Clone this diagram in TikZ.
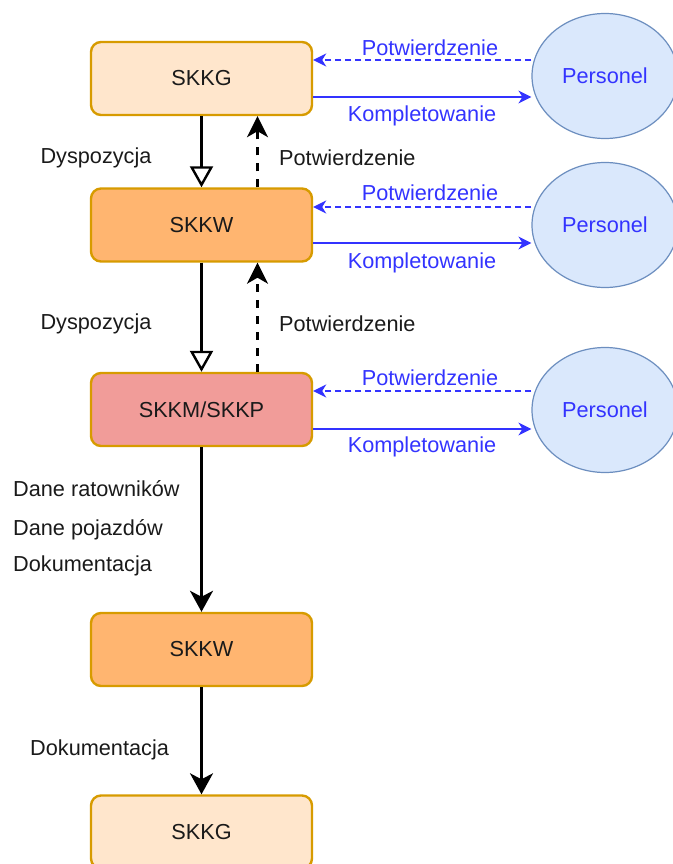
\documentclass[tikz,border=0pt]{standalone}
\usepackage{fontspec}
\setmainfont{Liberation Sans}
\usetikzlibrary{arrows.meta,shapes.geometric}

\definecolor{boxline}{HTML}{D79B00}
\definecolor{lightorange}{HTML}{FFE6CC}
\definecolor{midorange}{HTML}{FFB570}
\definecolor{salmon}{HTML}{F19C99}
\definecolor{staffline}{HTML}{6C8EBF}
\definecolor{stafffill}{HTML}{DAE8FC}
\definecolor{flowblue}{HTML}{3333FF}
\definecolor{ink}{HTML}{1A1A1A}

\tikzset{
  unit/.style={rectangle, rounded corners=10pt, draw=boxline, line width=2.4pt,
    minimum width=221pt, minimum height=73pt, inner sep=0pt, text=ink,
    font=\fontsize{21.7}{26}\selectfont},
  staff/.style={ellipse, draw=staffline, fill=stafffill, line width=1.2pt,
    minimum width=146pt, minimum height=125pt, inner sep=0pt, text=flowblue,
    font=\fontsize{21.7}{26}\selectfont},
  lbl/.style={inner sep=0pt, text=ink, font=\fontsize{21.7}{26}\selectfont},
  bluelbl/.style={inner sep=0pt, text=flowblue, font=\fontsize{21.7}{26}\selectfont},
  order/.style={draw=black, line width=2.6pt,
    -{Triangle[length=21pt,width=23pt,fill=white,line width=2.4pt]}},
  confirm/.style={draw=black, line width=2.6pt, dash pattern=on 8pt off 8pt,
    -{Stealth[length=21pt,width=21pt,inset=6pt]}},
  flow/.style={draw=black, line width=2.6pt,
    -{Stealth[length=21pt,width=23pt,inset=6pt]}},
  bconfirm/.style={draw=flowblue, line width=1.5pt, dash pattern=on 6pt off 4pt,
    -{Stealth[length=13pt,width=13pt,inset=4pt]}},
  bassemble/.style={draw=flowblue, line width=1.5pt,
    -{Stealth[length=13pt,width=13pt,inset=4pt]}},
}

\begin{document}
\begin{tikzpicture}[x=1pt, y=-1pt]
\useasboundingbox (0,0) rectangle (672,864);

% command units
\node[unit, fill=lightorange] (b1) at (201.5,78.5) {SKKG};
\node[unit, fill=midorange]   (b2) at (201.5,225)  {SKKW};
\node[unit, fill=salmon]      (b3) at (201.5,409.5) {SKKM/SKKP};
\node[unit, fill=midorange]   (b4) at (201.5,649.5) {SKKW};
\node[unit, fill=lightorange] (b5) at (201.5,832)  {SKKG};

% staff
\node[staff] (p1) at (605,76)  {Personel};
\node[staff] (p2) at (605,225) {Personel};
\node[staff] (p3) at (605,410) {Personel};

% orders down, confirmations up
\draw[order] (b1.south) -- (b2.north);
\draw[confirm] ([xshift=56pt]b2.north) -- ([xshift=56pt]b1.south);
\draw[order] (b2.south) -- (b3.north);
\draw[confirm] ([xshift=56pt]b3.north) -- ([xshift=56pt]b2.south);
\draw[flow] (b3.south) -- (b4.north);
\draw[flow] (b4.south) -- (b5.north);

\node[lbl] (d1) at (96,158) {Dyspozycja};
\node[lbl, anchor=west] (c1) at (279,158) {Potwierdzenie};
\node[lbl] (d2) at (96,324) {Dyspozycja};
\node[lbl, anchor=west] (c2) at (279,324) {Potwierdzenie};
\node[lbl, anchor=west] (t1) at (13,489) {Dane ratowników};
\node[lbl, anchor=west] (t2) at (13,530) {Dane pojazdów};
\node[lbl, anchor=west] (t3) at (13,566) {Dokumentacja};
\node[lbl, anchor=west] (t4) at (30,750) {Dokumentacja};

% staff exchanges
\draw[bconfirm] (p1.west |- 0,60) -- (b1.east |- 0,60);
\draw[bassemble] (b1.east |- 0,97) -- (p1.west |- 0,97);
\draw[bconfirm] (p2.west |- 0,207) -- (b2.east |- 0,207);
\draw[bassemble] (b2.east |- 0,243) -- (p2.west |- 0,243);
\draw[bconfirm] (p3.west |- 0,391) -- (b3.east |- 0,391);
\draw[bassemble] (b3.east |- 0,429) -- (p3.west |- 0,429);

\node[bluelbl] (e1) at (430,48)  {Potwierdzenie};
\node[bluelbl] (f1) at (422,116) {Kompletowanie};
\node[bluelbl] (e2) at (430,193) {Potwierdzenie};
\node[bluelbl] (f2) at (422,263) {Kompletowanie};
\node[bluelbl] (e3) at (430,378) {Potwierdzenie};
\node[bluelbl] (f3) at (422,447) {Kompletowanie};
\end{tikzpicture}
\end{document}
